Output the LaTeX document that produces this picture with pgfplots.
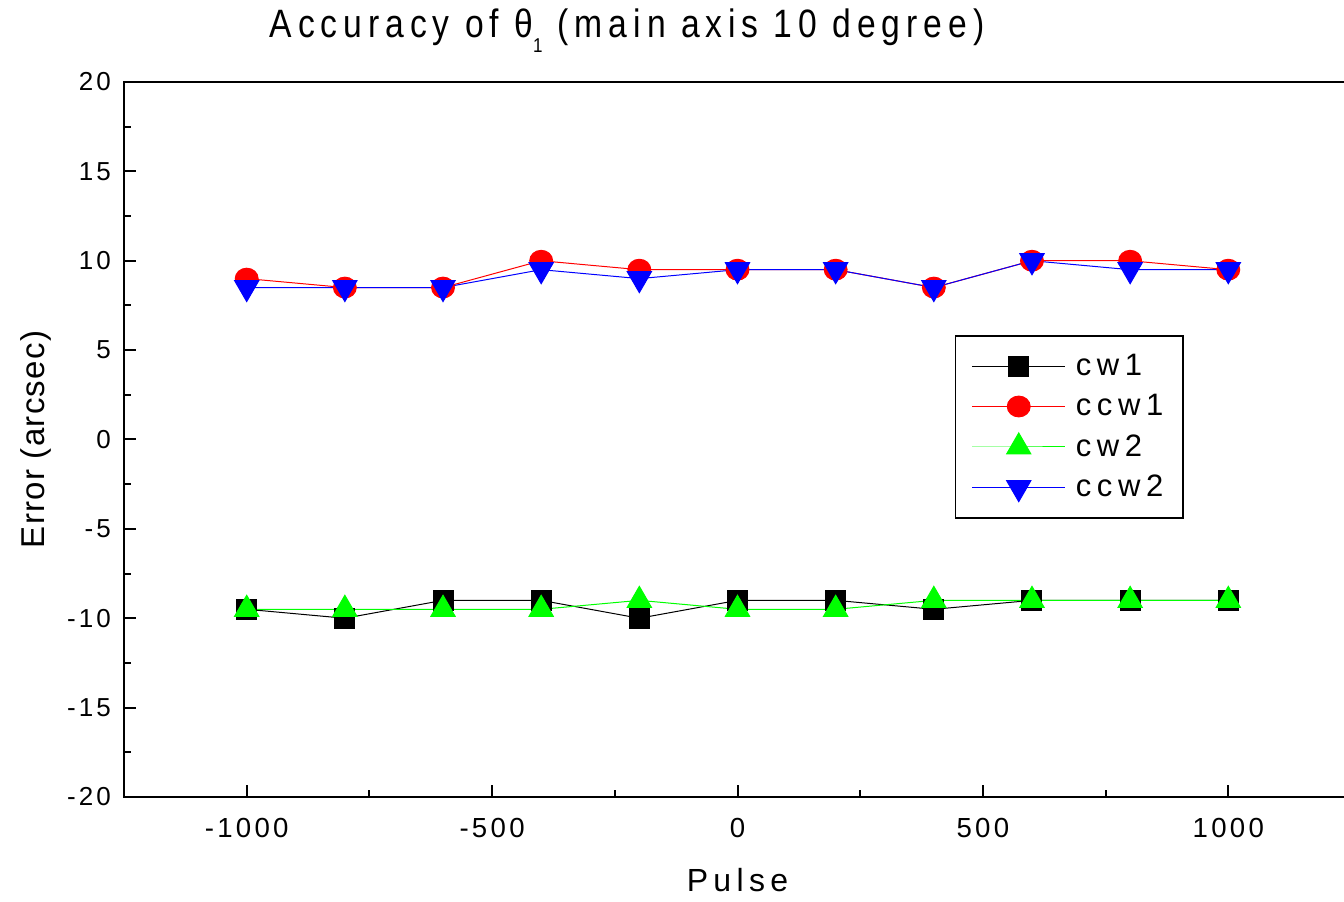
\documentclass[border=0pt]{standalone}
\usepackage{fontspec}
\setmainfont{Liberation Sans}
\newfontfamily\spaced[LetterSpace=12]{Liberation Sans}
\newfontfamily\ylfont[LetterSpace=4]{Liberation Sans}
\newfontfamily\legfont[LetterSpace=18]{Liberation Sans}
\newfontfamily\titlefont[LetterSpace=15,FakeStretch=0.85]{Liberation Sans}
\usepackage{pgfplots}
\pgfplotsset{compat=1.18}
\definecolor{cgreen}{RGB}{0,255,0}
\definecolor{cred}{RGB}{255,0,0}
\definecolor{cblue}{RGB}{0,0,255}
\begin{document}
\begin{tikzpicture}
\begin{axis}[
  name=ax,
  scale only axis,
  width=613.5pt, height=357.5pt,
  xmin=-1250, xmax=1250,
  ymin=-20, ymax=20,
  xtick={-1000,-500,0,500,1000},
  xticklabels={-1000,-500,0,500,1000},
  minor xtick={-750,-250,250,750},
  ytick={-20,-15,-10,-5,0,5,10,15,20},
  yticklabels={-20,-15,-10,-5,0,5,10,15,20},
  minor ytick={-17.5,-12.5,-7.5,-2.5,2.5,7.5,12.5,17.5},
  tick align=inside,
  xtick pos=bottom, ytick pos=left,
  major tick length=6pt, minor tick length=3.5pt,
  tick style={black, line width=1pt},
  axis line style={line width=1.2pt},
  ticklabel style={font=\spaced\fontsize{13}{15}\selectfont},
  xticklabel style={yshift=-7pt, font=\spaced\fontsize{13.8}{15}\selectfont},
  yticklabel style={xshift=-3pt},
  xlabel={\spaced\fontsize{16}{18}\selectfont P\,u\,l\,s\,e},
  ylabel={\ylfont\fontsize{16.5}{18}\selectfont Error (arcsec)},
  xlabel style={yshift=-8.5pt},
  ylabel style={yshift=1pt},
  legend style={at={(rel axis cs:0.677,0.646)}, anchor=north west,
    draw=black, line width=0.9pt, font=\legfont\fontsize{15.5}{17}\selectfont,
    row sep=4pt, inner xsep=8pt, inner ysep=7pt},
  legend cell align=left,
  legend image code/.code={\draw[line width=0.5pt, mark repeat=2, mark phase=2] plot coordinates {(0cm,0cm) (0.82cm,0cm) (1.64cm,0cm)};},
  every axis plot/.append style={line width=0.5pt},
  clip=false,
]
\addplot[black, mark=square*, mark size=5pt, mark options={solid, fill=black}] coordinates {
(-1000,-9.5) (-800,-10) (-600,-9) (-400,-9) (-200,-10) (0,-9) (200,-9) (400,-9.5) (600,-9) (800,-9) (1000,-9)};
\addlegendentry{\hspace{3pt}cw1}
\addplot[cred, mark=*, mark size=5.2pt, mark options={solid, fill=cred, draw=cred, xscale=1.1}] coordinates {
(-1000,9) (-800,8.5) (-600,8.5) (-400,10) (-200,9.5) (0,9.5) (200,9.5) (400,8.5) (600,10) (800,10) (1000,9.5)};
\addlegendentry{\hspace{3pt}ccw1}
\addplot[cgreen, mark=triangle*, mark size=7pt, mark options={solid, fill=cgreen, draw=cgreen}] coordinates {
(-1000,-9.5) (-800,-9.5) (-600,-9.5) (-400,-9.5) (-200,-9) (0,-9.5) (200,-9.5) (400,-9) (600,-9) (800,-9) (1000,-9)};
\addlegendentry{\hspace{3pt}cw2}
\addplot[cblue, mark=triangle*, mark size=7pt, mark options={solid, fill=cblue, draw=cblue, rotate=180}] coordinates {
(-1000,8.5) (-800,8.5) (-600,8.5) (-400,9.5) (-200,9) (0,9.5) (200,9.5) (400,8.5) (600,10) (800,9.5) (1000,9.5)};
\addlegendentry{\hspace{3pt}ccw2}
\node[anchor=base, font=\titlefont\fontsize{19.8}{24}\selectfont] at (rel axis cs:0.41,1.062) {Accuracy of θ\raisebox{-0.7ex}{\fontsize{10}{11}\selectfont 1} (main axis 10 degree)};
\end{axis}
\pgfresetboundingbox
\useasboundingbox ([xshift=-62pt]ax.south west |- ax.north) ++(0,41pt) rectangle ([xshift=-3.5pt]ax.south east |- ax.south) ++(0,-52.5pt);
\end{tikzpicture}
\end{document}
